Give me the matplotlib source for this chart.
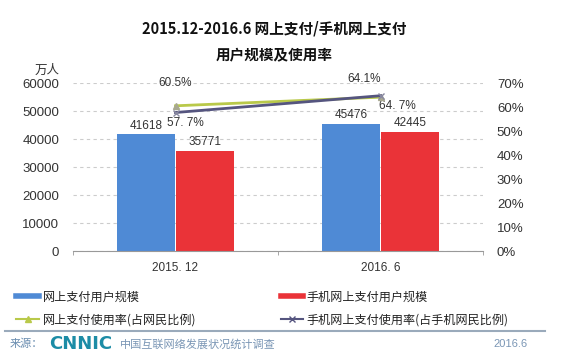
import matplotlib
matplotlib.use("Agg")
import matplotlib.pyplot as plt
from matplotlib.lines import Line2D
import numpy as np

plt.rcParams["font.family"] = ["Noto Sans CJK SC", "DejaVu Sans"]

categories = ["2015. 12", "2016. 6"]
pay_users = [41618, 45476]
mobile_pay_users = [35771, 42445]
pay_rate = [60.5, 64.1]
mobile_pay_rate = [57.7, 64.7]
pay_rate_labels = ["60.5%", "64.1%"]
mobile_rate_labels = ["57. 7%", "64. 7%"]
left_ticks = [0, 10000, 20000, 30000, 40000, 50000, 60000]
right_ticks = [0, 10, 20, 30, 40, 50, 60, 70]

BLUE = "#4F8AD5"
RED = "#EA3338"
GREEN = "#B9C94A"
PURPLE = "#55557F"
NUM_FONT = "Liberation Sans"

fig = plt.figure(figsize=(5.63, 3.57), dpi=100)
ax = fig.add_axes([73 / 563, 1 - 251 / 357, 410 / 563, 168 / 357])

x = np.arange(len(categories))
w = 0.28
off = 0.143
b1 = ax.bar(x - off, pay_users, w, color=BLUE, zorder=3)
b2 = ax.bar(x + off, mobile_pay_users, w, color=RED, zorder=3)

# value labels above bars
for bars, vals in [(b1, pay_users), (b2, mobile_pay_users)]:
    for rect, v in zip(bars, vals):
        ax.annotate(str(v), (rect.get_x() + rect.get_width() / 2, v), xytext=(0, 2),
                    textcoords="offset points", ha="center", va="bottom",
                    fontsize=8.5, family=NUM_FONT, color="#333333")

ax.set_xlim(-0.5, 1.5)
ax.set_ylim(0, 60000)
ax.set_yticks(left_ticks)
ax.set_yticklabels([str(t) for t in left_ticks], family=NUM_FONT, fontsize=9.5, color="#333333")
ax.set_xticks(x)
ax.set_xticklabels(categories, fontsize=8.5, family=NUM_FONT, color="#333333")
ax.tick_params(axis="x", length=0, pad=8)
ax.tick_params(axis="y", length=0, pad=10)
ax.set_xticks([-0.5, 0.5, 1.5], minor=True)
ax.tick_params(axis="x", which="minor", length=3, direction="out", color="#999999")
ax.grid(axis="y", linestyle=(0, (3, 3)), color="#CCCCCC", linewidth=0.8, zorder=0)
for s in ["left", "right", "top"]:
    ax.spines[s].set_visible(False)
ax.spines["bottom"].set_color("#999999")
ax.spines["bottom"].set_zorder(4)

ax2 = ax.twinx()
ax2.set_ylim(0, 70)
ax2.set_yticks(right_ticks)
ax2.set_yticklabels([f"{t}%" for t in right_ticks], family=NUM_FONT, fontsize=9.5, color="#333333")
ax2.tick_params(axis="y", length=0, pad=10)
for s in ax2.spines.values():
    s.set_visible(False)

ax2.plot(x, pay_rate, color=GREEN, linewidth=2, marker="^", markersize=5,
         markerfacecolor="#A8A890", markeredgecolor="#A8A890", zorder=5)
ax2.plot(x, mobile_pay_rate, color=PURPLE, linewidth=2, marker="x", markersize=5,
         markeredgecolor="#8888A0", zorder=5)

ax2.annotate(pay_rate_labels[0], (x[0], pay_rate[0]), xytext=(0, 12), textcoords="offset points",
             ha="center", va="bottom", fontsize=8.5, family=NUM_FONT, color="#333333")
ax2.annotate(pay_rate_labels[1], (x[1], pay_rate[1]), xytext=(-12, 9), textcoords="offset points",
             ha="center", va="bottom", fontsize=8.5, family=NUM_FONT, color="#333333")
ax2.annotate(mobile_rate_labels[0], (x[0], mobile_pay_rate[0]), xytext=(7, -3), textcoords="offset points",
             ha="center", va="top", fontsize=8.5, family=NUM_FONT, color="#333333")
ax2.annotate(mobile_rate_labels[1], (x[1], mobile_pay_rate[1]), xytext=(12, -3), textcoords="offset points",
             ha="center", va="top", fontsize=8.5, family=NUM_FONT, color="#333333")

fig.text(47 / 563, 1 - 70 / 357, "万人", ha="center", va="center", fontsize=9, color="#333333")

fig.text(274 / 563, 1 - 29 / 357, "2015.12-2016.6 网上支付/手机网上支付", ha="center", va="center",
         fontsize=10.5, fontweight="bold", color="#111111")
fig.text(274 / 563, 1 - 54 / 357, "用户规模及使用率", ha="center", va="center",
         fontsize=10.5, fontweight="bold", color="#111111")

handles = [
    Line2D([0], [0], color=BLUE, linewidth=4),
    Line2D([0], [0], color=GREEN, linewidth=1.5, marker="^", markersize=4,
           markerfacecolor=GREEN, markeredgecolor=GREEN),
    Line2D([0], [0], color=RED, linewidth=4),
    Line2D([0], [0], color=PURPLE, linewidth=1.5, marker="x", markersize=4),
]
labels = ["网上支付用户规模", "网上支付使用率(占网民比例)", "手机网上支付用户规模", "手机网上支付使用率(占手机网民比例)"]
fig.legend(handles, labels, ncol=2, loc="upper left", bbox_to_anchor=(8 / 563, 1 - 282 / 357),
           frameon=False, fontsize=8.7, handlelength=1.9, handletextpad=0.25, columnspacing=7.0,
           labelspacing=0.85, labelcolor="#222222", borderaxespad=0.3)

fig.add_artist(Line2D([5 / 563, 545 / 563], [1 - 331 / 357, 1 - 331 / 357], color="#9AAABB", linewidth=1.5))
fig.text(10 / 563, 1 - 344 / 357, "来源：", ha="left", va="center", fontsize=8, color="#6A8DB0")
fig.text(49 / 563, 1 - 344 / 357, "CNNIC", ha="left", va="center", fontsize=13, fontweight="bold",
         family="DejaVu Sans", color="#1C8CA6")
fig.text(120 / 563, 1 - 344 / 357, "中国互联网络发展状况统计调查", ha="left", va="center", fontsize=8, color="#7A96B5")
fig.text(510 / 563, 1 - 344 / 357, "2016.6", ha="center", va="center", fontsize=8, family=NUM_FONT, color="#7A96B5")

fig.savefig("out.png", dpi=100)
